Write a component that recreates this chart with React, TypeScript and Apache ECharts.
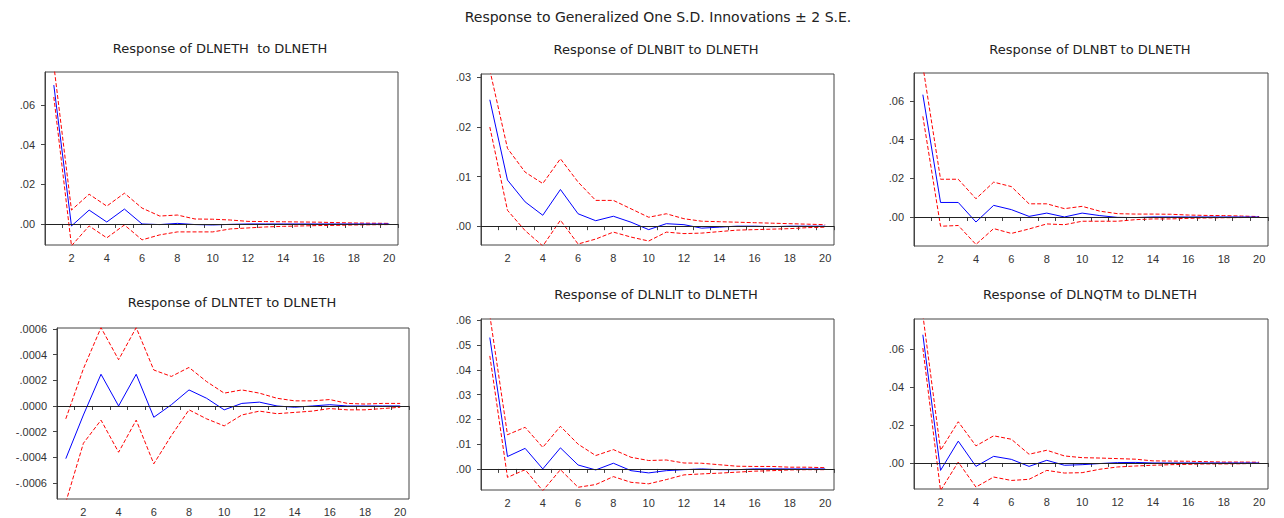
import React, { useEffect, useRef } from 'react';
import * as echarts from 'echarts';

const periods = ['1','2','3','4','5','6','7','8','9','10','11','12','13','14','15','16','17','18','19','20'];

const mainTitle = 'Response to Generalized One S.D. Innovations \u00B1 2 S.E.';
const panelTitles = [
  'Response of DLNETH  to DLNETH',
  'Response of DLNBIT to DLNETH',
  'Response of DLNBT to DLNETH',
  'Response of DLNTET to DLNETH',
  'Response of DLNLIT to DLNETH',
  'Response of DLNQTM to DLNETH',
];

// DLNETH
const ethResp = [0.070, -0.001, 0.007, 0.001, 0.0075, 0.0, -0.0003, 0.0003, -0.0003, -0.0005, -0.0002, 0, 0, 0, 0, 0, 0, 0, 0, 0];
const ethUp = [0.080, 0.007, 0.015, 0.009, 0.0155, 0.008, 0.004, 0.0045, 0.0025, 0.0024, 0.002, 0.0013, 0.0012, 0.0011, 0.001, 0.0009, 0.0007, 0.0005, 0.0004, 0.0003];
const ethLo = [0.064, -0.011, -0.001, -0.007, -0.0005, -0.008, -0.0055, -0.004, -0.004, -0.004, -0.0025, -0.002, -0.0015, -0.0012, -0.001, -0.0008, -0.0007, -0.0005, -0.0004, -0.0003];

// DLNBIT
const bitResp = [0.0255, 0.0093, 0.0049, 0.0022, 0.0074, 0.0025, 0.0011, 0.002, 0.0008, -0.0007, 0.0005, 0.0003, -0.0004, -0.0002, 0, 0, -0.0001, 0, 0, 0];
const bitUp = [0.0315, 0.0157, 0.0109, 0.0086, 0.0136, 0.0089, 0.0052, 0.0052, 0.0035, 0.0018, 0.0025, 0.0015, 0.001, 0.0009, 0.0008, 0.0007, 0.0006, 0.0005, 0.0004, 0.0003];
const bitLo = [0.020, 0.0032, -0.0009, -0.004, 0.0012, -0.0036, -0.0026, -0.0012, -0.0022, -0.003, -0.0012, -0.0015, -0.0014, -0.0011, -0.0008, -0.0007, -0.0006, -0.0005, -0.0003, -0.0002];

// DLNBT
const btResp = [0.0632, 0.0075, 0.0075, -0.0026, 0.006, 0.0038, 0.0003, 0.002, 0, 0.002, 0.0007, -0.0002, -0.0003, 0, 0, 0, 0, 0, 0, 0];
const btUp = [0.078, 0.0195, 0.0195, 0.0094, 0.018, 0.0157, 0.0068, 0.0068, 0.0043, 0.0055, 0.003, 0.0017, 0.0015, 0.0015, 0.0014, 0.001, 0.0008, 0.0007, 0.0005, 0.0002];
const btLo = [0.052, -0.0048, -0.0044, -0.0142, -0.006, -0.0085, -0.0062, -0.0036, -0.004, -0.0022, -0.0022, -0.0022, -0.0014, -0.001, -0.001, -0.0007, -0.0005, -0.0004, -0.0003, -0.0002];

// DLNTET
const tetResp = [-0.00041, -0.00007, 0.000247, 0.0, 0.000247, -0.000088, 0.00001, 0.000125, 0.00006, -0.00003, 0.00002, 0.00003, 0.0, -0.00001, 0.0, 0.00001, 0, 0, 0, 0];
const tetUp = [-0.0001, 0.00029, 0.00061, 0.00036, 0.00061, 0.00028, 0.00023, 0.0003, 0.00019, 0.0001, 0.000125, 0.0001, 0.00006, 0.00004, 0.00004, 0.00005, 0.00002, 0.000015, 0.00002, 0.00002];
const tetLo = [-0.00075, -0.00029, -0.00011, -0.00036, -0.00011, -0.00045, -0.00023, -0.00003, -0.0001, -0.000155, -0.00007, -0.00004, -0.00006, -0.00005, -0.00004, -0.00002, -0.00003, -0.00003, -0.00002, -0.00001];

// DLNLIT
const litResp = [0.053, 0.005, 0.0083, 0.0, 0.0085, 0.0016, -0.0004, 0.0023, -0.0007, -0.0016, -0.0007, -0.0003, 0, -0.0003, -0.0003, 0, 0, 0, 0, 0];
const litUp = [0.062, 0.0138, 0.0168, 0.0087, 0.0172, 0.010, 0.0054, 0.0078, 0.0047, 0.0034, 0.0036, 0.0024, 0.0023, 0.0017, 0.0011, 0.001, 0.001, 0.0007, 0.0007, 0.0005];
const litLo = [0.0456, -0.0034, -0.0003, -0.0088, -0.0003, -0.0074, -0.0063, -0.0031, -0.0054, -0.006, -0.0043, -0.0024, -0.002, -0.0017, -0.0013, -0.0009, -0.0007, -0.0004, -0.0003, -0.0003];

// DLNQTM
const qtmResp = [0.0675, -0.0039, 0.0115, -0.0018, 0.0035, 0.0019, -0.0018, 0.0014, -0.0012, -0.0009, -0.0003, 0.0002, 0.0003, 0, 0, 0, 0, 0, 0, 0];
const qtmUp = [0.078, 0.0067, 0.0217, 0.009, 0.0143, 0.0125, 0.0046, 0.0067, 0.0037, 0.0028, 0.0026, 0.0023, 0.002, 0.0011, 0.001, 0.0009, 0.0007, 0.0005, 0.0005, 0.0004];
const qtmLo = [0.0605, -0.0145, 0.0005, -0.0127, -0.0074, -0.0092, -0.0086, -0.0039, -0.0053, -0.0051, -0.0033, -0.0021, -0.0016, -0.0012, -0.0009, -0.0007, -0.0005, -0.0005, -0.0004, -0.0002];

// Y axes: ranges and tick labels
const yMins = [-0.0106, -0.0038, -0.015, -0.000724, -0.0085, -0.0137];
const yMaxs = [0.0766, 0.0307, 0.0744, 0.000607, 0.0605, 0.0758];
const yTicks1 = [0, 0.02, 0.04, 0.06];
const yTicks2 = [0, 0.01, 0.02, 0.03];
const yTicks3 = [0, 0.02, 0.04, 0.06];
const yTicks4 = [-0.0006, -0.0004, -0.0002, 0, 0.0002, 0.0004, 0.0006];
const yTicks5 = [0, 0.01, 0.02, 0.03, 0.04, 0.05, 0.06];
const yTicks6 = [0, 0.02, 0.04, 0.06];
const yDecimals = [2, 2, 2, 4, 2, 2];

const responses = [ethResp, bitResp, btResp, tetResp, litResp, qtmResp];
const uppers = [ethUp, bitUp, btUp, tetUp, litUp, qtmUp];
const lowers = [ethLo, bitLo, btLo, tetLo, litLo, qtmLo];
const yTicks = [yTicks1, yTicks2, yTicks3, yTicks4, yTicks5, yTicks6];

// layout (page pixels)
const grids = [
  { left: 45, top: 72, width: 353, height: 173 },
  { left: 481, top: 74, width: 353, height: 171 },
  { left: 914, top: 73, width: 354, height: 173 },
  { left: 57, top: 328, width: 352, height: 171 },
  { left: 481, top: 319, width: 353, height: 171 },
  { left: 914, top: 319, width: 354, height: 170 },
];
const titlePos = [
  [220, 48], [656, 49], [1090, 49], [232, 302], [656, 294], [1090, 294],
];

const FONT = 'Arial, "Liberation Sans", sans-serif';
const TFONT = '"DejaVu Sans", Verdana, sans-serif';
const INK = '#333333';

function fmt(v: number, d: number) {
  const s = Math.abs(v) < 1e-12 ? (0).toFixed(d) : v.toFixed(d);
  return s.replace(/^(-?)0\./, '$1.');
}

export default function App() {
  const ref = useRef<HTMLDivElement>(null);
  useEffect(() => {
    if (!ref.current) return;
    const chart = echarts.init(ref.current, undefined, { renderer: 'svg' });
    const xAxis: any[] = [];
    const yAxis: any[] = [];
    const series: any[] = [];
    const grid: any[] = [];
    const graphic: any[] = [
      {
        type: 'text', x: 658, y: 17,
        style: { text: mainTitle, align: 'center', verticalAlign: 'middle', fontSize: 14, fontFamily: TFONT, fill: '#222' },
      },
    ];
    for (let i = 0; i < 6; i++) {
      grid.push({ ...grids[i], show: true, borderColor: '#444', borderWidth: 1, backgroundColor: 'transparent' });
      graphic.push({
        type: 'text', x: titlePos[i][0], y: titlePos[i][1],
        style: { text: panelTitles[i], align: 'center', verticalAlign: 'middle', fontSize: 13, fontFamily: TFONT, fill: '#222' },
      });
      xAxis.push({
        type: 'category', gridIndex: i, data: periods, boundaryGap: true,
        axisLine: { show: true, lineStyle: { color: '#444', width: 1 } },
        axisTick: { show: true, interval: 0, length: 4, inside: false, alignWithLabel: false, lineStyle: { color: '#444' } },
        axisLabel: { interval: (idx: number) => idx % 2 === 1, fontSize: 11, color: INK, fontFamily: FONT, margin: 7 },
        splitLine: { show: false },
      });
      const d = yDecimals[i];
      yAxis.push({
        type: 'value', gridIndex: i, min: yMins[i], max: yMaxs[i],
        axisLine: { show: true, onZero: false, lineStyle: { color: '#444', width: 1 } },
        axisTick: { show: true, length: 4, inside: false, customValues: yTicks[i], lineStyle: { color: '#444' } },
        axisLabel: { customValues: yTicks[i], fontSize: 11, color: INK, fontFamily: FONT, margin: 10, formatter: (v: number) => fmt(v, d) },
        splitLine: { show: false },
      });
      series.push({
        type: 'line', xAxisIndex: i, yAxisIndex: i, data: uppers[i], symbol: 'none', silent: true,
        lineStyle: { color: '#ff0000', width: 1, type: [4, 2] }, z: 3,
      });
      series.push({
        type: 'line', xAxisIndex: i, yAxisIndex: i, data: lowers[i], symbol: 'none', silent: true,
        lineStyle: { color: '#ff0000', width: 1, type: [4, 2] }, z: 3,
      });
      series.push({
        type: 'line', xAxisIndex: i, yAxisIndex: i, data: responses[i], symbol: 'none', silent: true,
        lineStyle: { color: '#0000ff', width: 1 }, z: 4,
        markLine: {
          silent: true, symbol: ['none', 'none'], label: { show: false },
          lineStyle: { color: '#222', width: 1, type: 'solid' },
          data: [{ yAxis: 0 }],
        },
      });
    }
    chart.setOption({
      animation: false,
      backgroundColor: '#ffffff',
      grid, xAxis, yAxis, series, graphic,
    });
    return () => chart.dispose();
  }, []);
  return <div ref={ref} style={{ position: 'absolute', left: 0, top: 0, width: 1284, height: 518 }} />;
}
